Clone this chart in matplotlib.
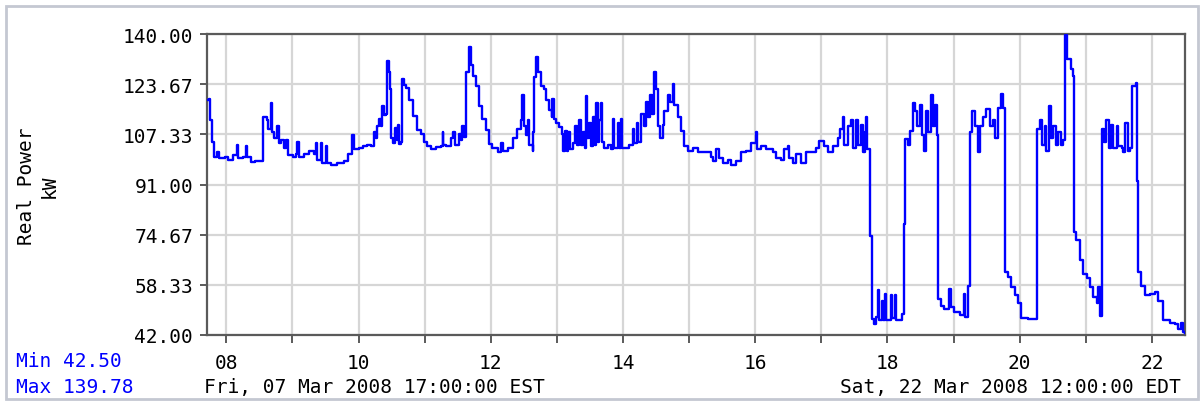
import pandas as pd
import numpy as np
import matplotlib
matplotlib.use("Agg")
import matplotlib.pyplot as plt
import matplotlib.dates as mdates
from matplotlib.patches import Rectangle

# time window of the graph
start = pd.Timestamp("2008-03-07 17:00")
end = pd.Timestamp("2008-03-22 12:00")

# hours since start
hours = [
    0.0, 0.65, 1.0, 1.9, 2.7, 3.7, 4.2, 6.7, 7.8, 9.3, 11.0, 11.3, 12.9, 14.0, 14.4,
    15.8, 17.6, 19.4, 20.2, 20.4, 21.9, 22.3, 23.1, 23.7, 24.5, 25.5, 26.0, 26.7,
    27.8, 28.5, 29.3, 31.1, 32.2, 32.8, 33.3, 35.1, 36.9, 38.7, 39.4, 39.8, 41.2,
    41.9, 43.1, 43.4, 44.9, 47.1, 49.6, 51.1, 52.8, 53.2, 55.1, 56.5, 58.0,
    59.4, 60.6, 61.2, 61.8, 62.4, 63.0, 63.7, 64.3, 65.1, 65.5, 66.1, 66.4, 66.7,
    67.5, 68.2, 68.8, 69.3, 69.7, 70.3, 70.7, 71.5, 72.4, 73.3, 74.6, 76.4, 77.6,
    78.8, 79.7, 81.2, 83.0, 84.9, 85.5, 85.7, 86.7, 88.5, 89.3, 90.0, 91.3, 92.1,
    92.7, 93.3, 93.9, 95.1, 95.8, 96.4, 97.6, 98.8, 100.0, 101.2, 102.4, 103.6,
    105.5, 106.7, 107.3, 109.1, 110.9, 112.7, 113.9, 114.5, 114.9, 115.7, 116.4,
    116.9, 118.2, 118.5,
    118.8, 119.4, 120.0, 121.2, 122.4, 123.0, 124.2, 125.1, 125.4, 125.8, 126.6,
    127.8, 128.7, 129.3, 129.9, 130.5, 131.1, 131.7, 132.7, 133.5, 134.3, 135.1,
    135.7, 136.6, 137.2, 137.5, 137.9, 138.7, 139.4, 140.2, 140.8, 141.2, 141.8,
    142.4, 143.0, 143.4, 144.2, 145.4, 146.6, 147.2, 147.6, 149.1, 149.4, 150.3,
    150.6, 152.1, 153.3, 154.5, 155.1, 156.1, 156.6, 157.5, 158.5, 159.4, 160.2,
    160.9, 161.4, 162.4, 163.0, 163.6, 164.6, 165.4, 166.0, 167.2, 168.2, 169.1,
    169.6, 170.9, 172.1, 173.3, 174.5, 176.3, 178.1,
    181.2, 183.0, 183.6, 184.8, 185.8, 187.2, 189.0, 190.2, 192.1, 193.9, 195.7,
    197.5, 199.3, 199.7, 201.1, 203.0, 205.4, 206.6, 208.4, 209.6, 210.8, 211.4,
    212.7, 213.9, 215.7, 217.5, 219.9, 221.1, 222.3, 224.1, 225.4, 227.2, 229.0,
    229.9, 230.8, 231.4, 232.6, 233.8, 234.5, 235.7, 236.3, 237.5,
    238.1, 238.7, 239.3, 239.7, 240.5, 241.4, 242.1, 243.0, 243.6, 243.9, 245.0,
    245.4, 246.0, 246.4, 247.4, 248.4, 248.8, 249.6, 250.0, 251.8, 252.3, 252.9,
    253.5, 254.5, 255.3, 256.3, 257.1, 257.8, 258.7, 259.5, 260.3, 261.1, 261.7,
    262.7, 263.5, 264.1, 265.0, 265.3, 266.5, 267.7, 269.2, 269.5, 269.9, 271.3,
    273.2, 274.8, 275.2, 276.3, 276.8, 277.7, 278.7, 279.9, 280.5, 281.7, 282.9,
    284.1, 285.4, 286.2, 287.2, 288.1, 289.0, 289.6, 290.8, 292.0, 293.2, 294.4,
    295.6, 298.0,
    301.1, 301.4, 302.3, 303.1, 304.1, 304.7, 305.5, 306.3, 307.1, 308.0, 309.0,
    309.9, 310.8, 311.4, 312.3, 313.5, 314.4, 314.6, 315.6, 316.8, 318.0, 319.3,
    320.4, 321.7, 322.9, 323.5, 324.1, 324.7, 325.7, 326.5, 327.4, 328.1, 329.0,
    330.2, 330.8, 332.0, 332.6, 333.4, 334.2, 335.0, 335.6, 337.1, 337.4, 338.0,
    339.0, 340.4, 342.2, 344.1, 345.3, 347.1, 349.5, 351.4, 352.6, 353.5, 354.4,
    355.0,
]

# real power in kW at those times
power_kw = [
    118.5, 119.0, 112.0, 105.0, 100.0, 101.5, 99.5, 100.0, 99.0, 100.5, 104.0, 99.5,
    100.0, 103.5, 100.0, 98.2, 98.5, 98.5, 100.0, 113.0, 112.0, 109.0, 117.5, 108.0,
    106.0, 110.0, 104.5, 105.5, 103.0, 105.5, 100.5, 100.0, 101.0, 105.0, 100.0,
    101.0, 102.0, 101.0, 104.5, 99.0, 104.5, 98.0, 103.5, 98.0, 97.5, 98.0, 98.5,
    101.0, 107.0, 102.5, 103.0, 103.5, 104.0,
    103.5, 108.0, 106.0, 110.0, 112.3, 110.0, 116.7, 113.5, 114.0, 131.1, 127.5,
    122.0, 106.0, 104.5, 109.5, 105.5, 110.5, 104.2, 105.0, 125.4, 123.5, 122.5,
    118.6, 113.2, 108.9, 107.5, 105.0, 103.4, 102.5, 103.2, 103.5, 108.0, 104.0,
    103.5, 106.0, 108.0, 104.0, 107.5, 105.5, 110.0, 106.5, 127.5, 135.7, 130.0,
    126.4, 123.2, 116.7, 112.3, 108.9, 104.2, 103.0, 101.5, 104.5, 101.8, 103.0,
    106.0, 109.0, 112.0, 120.0, 110.0, 107.0, 112.0, 104.0, 102.0, 108.0,
    126.0, 132.4, 127.5, 123.2, 122.0, 118.6, 115.3, 113.0, 119.0, 112.3, 110.9,
    109.8, 107.6, 102.0, 108.5, 102.0, 108.0, 102.5, 104.5, 110.0, 104.0, 112.0,
    104.0, 108.0, 103.0, 119.7, 106.0, 111.0, 103.5, 113.0, 104.0, 117.5, 105.0,
    112.0, 117.5, 105.0, 103.0, 104.0, 102.5, 112.3, 103.0, 111.0, 103.0, 112.3,
    103.0, 103.0, 104.0, 109.0, 104.5, 111.0, 105.0, 114.0, 110.0, 118.0, 113.0,
    120.0, 114.0, 127.5, 122.0, 110.0, 106.0, 110.5, 115.0, 120.0, 118.0, 123.7,
    117.0, 113.0, 108.5, 103.4, 102.0, 103.0, 101.5,
    101.6, 100.0, 98.5, 102.5, 99.5, 98.0, 99.0, 97.5, 98.5, 101.5, 102.0,
    104.5, 108.0, 102.5, 103.5, 102.5, 101.5, 99.5, 99.0, 102.5, 103.5, 99.5,
    98.0, 101.0, 98.0, 101.6, 101.6, 103.0, 105.3, 103.5, 101.5, 103.5, 106.0,
    109.0, 113.0, 104.0, 110.0, 112.0, 103.0, 112.0, 104.0, 110.5,
    101.5, 108.0, 113.0, 102.6, 74.3, 47.2, 45.5, 48.0, 56.5, 47.0, 53.0,
    47.0, 55.5, 47.0, 47.0, 55.0, 47.5, 55.0, 47.0, 47.0, 49.0, 78.1,
    105.8, 104.0, 108.5, 117.5, 115.0, 110.0, 117.0, 107.0, 102.0, 115.0, 108.0,
    120.0, 110.0, 117.0, 107.0, 53.7, 51.5, 50.5, 52.0, 57.0, 51.0, 49.5,
    48.5, 55.5, 48.0, 58.0, 108.0, 115.0, 110.0, 101.5, 110.0, 113.0, 115.5,
    110.0, 112.0, 106.0, 116.0, 120.5, 116.0, 62.4, 61.0, 57.5, 55.0, 52.5,
    47.5, 47.2,
    47.5, 109.1, 112.0, 104.0, 110.0, 102.0, 116.6, 106.0, 110.0, 104.0, 108.0,
    104.0, 105.5, 139.78, 132.0, 128.6, 126.4, 75.4, 73.0, 66.3, 62.0, 60.5,
    57.6, 54.3, 52.5, 57.5, 48.2, 109.1, 105.0, 112.0, 103.0, 110.5, 103.0,
    110.0, 103.5, 103.0, 101.5, 111.0, 102.0, 103.0, 123.2, 124.0, 92.2, 62.4,
    58.0, 55.0, 55.5, 56.0, 53.0, 46.9, 46.0, 45.5, 44.0, 46.0, 43.0,
    42.5,
]

y_ticks = [42.00, 58.33, 74.67, 91.00, 107.33, 123.67, 140.00]

mono = "DejaVu Sans Mono"
fs = 14
blue = "#0000ff"
frame = "#5a5a5a"
grid = "#d6d6d6"

times = start + pd.to_timedelta(hours, unit="h")

fig = plt.figure(figsize=(12.04, 4.02), dpi=100)
ax = fig.add_axes([207 / 1204, 1 - 336 / 402, 978 / 1204, 301 / 402])

# rrd-style graph: values hold until the next sample
ax.plot(times, power_kw, color=blue, lw=1.7, drawstyle="steps-post", zorder=3)

ax.set_xlim(start, end)
ax.set_ylim(y_ticks[0], y_ticks[-1])

ax.xaxis.set_major_locator(mdates.DayLocator(bymonthday=range(2, 32, 2)))
ax.xaxis.set_minor_locator(mdates.DayLocator())
ax.xaxis.set_major_formatter(mdates.DateFormatter("%d"))
ax.set_yticks(y_ticks)
ax.set_yticklabels([f"{v:.2f}" for v in y_ticks])

ax.grid(True, which="both", axis="x", color=grid, lw=1.6, zorder=0)
ax.grid(True, which="major", axis="y", color=grid, lw=1.6, zorder=0)

ax.tick_params(axis="y", length=5, width=1.4, color=frame, pad=5,
               labelsize=fs, labelfontfamily=mono)
ax.tick_params(axis="x", which="both", length=6, width=1.4, color=frame,
               pad=7, labelsize=fs, labelfontfamily=mono)

for s in ax.spines.values():
    s.set_color(frame)
    s.set_linewidth(1.6)

fig.text(38 / 1204, 1 - 186 / 402, "Real Power\nkW", rotation=90, ha="center",
         va="center", ma="center", family=mono, fontsize=fs, linespacing=1.25)

fig.text(16 / 1204, 1 - 362 / 402, "Min 42.50", color=blue, family=mono,
         fontsize=fs, ha="left", va="center")
fig.text(16 / 1204, 1 - 388 / 402, "Max 139.78", color=blue, family=mono,
         fontsize=fs, ha="left", va="center")
fig.text(204 / 1204, 1 - 388 / 402, "Fri, 07 Mar 2008 17:00:00 EST",
         family=mono, fontsize=fs, ha="left", va="center")
fig.text(1181 / 1204, 1 - 388 / 402, "Sat, 22 Mar 2008 12:00:00 EDT",
         family=mono, fontsize=fs, ha="right", va="center")

# light outer border of the graph image
fig.patches.append(Rectangle((6 / 1204, 2 / 402), 1192 / 1204, 393 / 402,
                             transform=fig.transFigure, fill=False,
                             edgecolor="#c4c8d2", lw=2.0))

fig.savefig("out.png", dpi=100)
